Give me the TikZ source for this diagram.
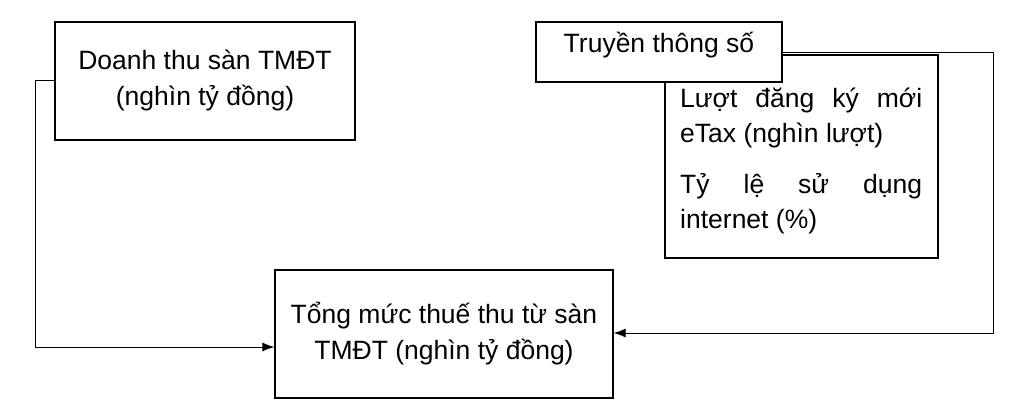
\documentclass[tikz,border=0pt]{standalone}
\usepackage{fontspec}
\setmainfont{Liberation Sans}
\usetikzlibrary{arrows.meta}
\begin{document}
\begin{tikzpicture}[x=1pt,y=-1pt,
  box/.style={draw,line width=1.2pt,fill=white,inner sep=0pt},
  lbl/.style={font=\fontsize{26.5}{36}\selectfont,align=center},
  conn/.style={line width=1pt,-{Latex[length=12pt,width=9pt]}}]
\useasboundingbox (0,0) rectangle (1015,413);
\node[box,minimum width=300pt,minimum height=118pt] (b1) at (205,81) {};
\node[lbl] (t1) at (205,80) {Doanh thu sàn TMĐT\\(nghìn tỷ đồng)};
\node[box,minimum width=273pt,minimum height=203pt] (b3) at (801.5,156.5) {};
\node[box,minimum width=246pt,minimum height=60pt] (b2) at (659,52) {};
\node[lbl] (t2) at (659,45) {Truyền thông số};
\node[font=\fontsize{26.5}{35}\selectfont,text width=242pt,align=justify,anchor=north west,inner sep=0pt] (t3) at (680,88)
 {Lượt\hfill đăng\hfill ký\hfill mới\\eTax (nghìn lượt)\par\vspace{16pt}Tỷ\hfill lệ\hfill sử\hfill dụng\\internet (\%)};
\node[box,minimum width=338pt,minimum height=128pt] (b4) at (444,334) {};
\node[lbl] (t4) at (444,334) {Tổng mức thuế thu từ sàn\\TMĐT (nghìn tỷ đồng)};
\coordinate (a1) at (35,80);
\coordinate (a2) at (35,347);
\draw[conn] (b1.west|-a1) -- (a1) -- (a2) -- (b4.west|-a2);
\coordinate (c1) at (993,52);
\coordinate (c2) at (993,333);
\draw[conn] (b2.east|-c1) -- (c1) -- (c2) -- (b4.east|-c2);
\end{tikzpicture}
\end{document}
